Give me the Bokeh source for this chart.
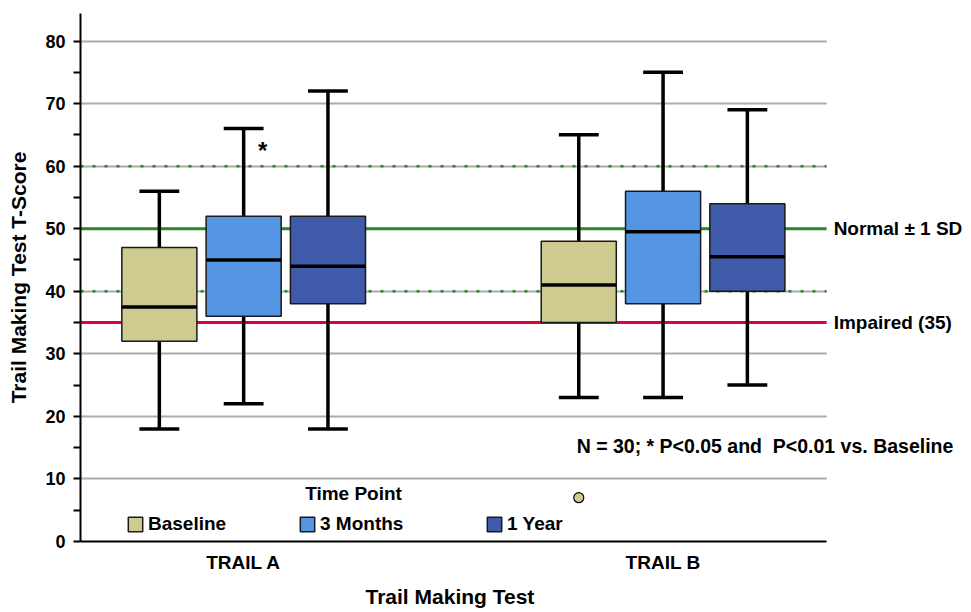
from bokeh.plotting import figure
from bokeh.models import (ColumnDataSource, Range1d, Span, Label, Legend, LegendItem, Title,
                          SingleIntervalTicker, FixedTicker, BoxAnnotation)
from bokeh.transform import dodge
from bokeh.core.properties import value
from bokeh.embed import file_html
from bokeh.resources import INLINE

# ---------------- data ----------------
trails = ["TRAIL A", "TRAIL B"]
time_points = ["Baseline", "3 Months", "1 Year"]
colors = ["#CFCA8F", "#5496E4", "#3F5BA9"]

box_trail = ["TRAIL A", "TRAIL A", "TRAIL A", "TRAIL B", "TRAIL B", "TRAIL B"]
box_time = ["Baseline", "3 Months", "1 Year", "Baseline", "3 Months", "1 Year"]
whisker_low = [18, 22, 18, 23, 23, 25]
q1 = [32, 36, 38, 35, 38, 40]
median = [37.5, 45, 44, 41, 49.5, 45.5]
q3 = [47, 52, 52, 48, 56, 54]
whisker_high = [56, 66, 72, 65, 75, 69]

outlier_trail = ["TRAIL B"]
outlier_time = ["Baseline"]
outlier_value = [7]

sig_trail = ["TRAIL A"]
sig_time = ["3 Months"]
sig_value = [62.5]

normal_mean = 50
normal_sd = 10
impaired_cut = 35

# ---------------- layout constants ----------------
FONT = "Liberation Sans"
x_start, x_end = -0.389, 1.733      # plotting area (right part holds the notes)
grid_end = 1.39                      # where the lines of the chart stop
offsets = {"Baseline": -0.201, "3 Months": 0.0, "1 Year": 0.201}
box_w = 0.179
cap_w = 0.095
legend_x = {"Baseline": 46, "3 Months": 218, "1 Year": 405}

pos = {t: i for i, t in enumerate(trails)}

p = figure(frame_width=890, frame_height=528,
           x_range=Range1d(x_start, x_end), y_range=Range1d(0, 84.4),
           output_backend="svg", toolbar_location=None,
           min_border_left=80, min_border_right=0, min_border_top=13, min_border_bottom=71,
           y_axis_label="Trail Making Test T-Score")
p.outline_line_color = None
p.background_fill_color = "white"
p.border_fill_color = "white"

# grid
p.xgrid.grid_line_color = None
p.ygrid.grid_line_color = "#ABABAB"
p.ygrid.grid_line_width = 2

# axes
p.yaxis.ticker = SingleIntervalTicker(interval=10, num_minor_ticks=2)
p.xaxis.ticker = FixedTicker(ticks=list(range(len(trails))))
p.xaxis.major_label_overrides = {i: t for i, t in enumerate(trails)}
p.xaxis.bounds = (x_start, grid_end)
for ax in (p.xaxis[0], p.yaxis[0]):
    ax.axis_line_color = "black"
    ax.axis_line_width = 2
    ax.major_label_text_font = FONT
    ax.major_label_text_font_style = "bold"
    ax.major_label_text_color = "black"
    ax.axis_label_text_font = FONT
    ax.axis_label_text_font_style = "bold"
    ax.axis_label_text_color = "black"
p.yaxis.major_tick_out = 0
p.yaxis.major_tick_in = 0
p.yaxis.minor_tick_out = 7
p.yaxis.minor_tick_in = 0
p.yaxis.minor_tick_line_width = 2
p.yaxis.minor_tick_line_color = "black"
p.yaxis.major_label_text_font_size = "18px"
p.yaxis.major_label_standoff = 8
p.yaxis.axis_label_text_font_size = "21px"
p.yaxis.axis_label_standoff = 12

p.xaxis.major_tick_out = 0
p.xaxis.major_tick_in = 0
p.xaxis.major_tick_line_color = None
p.xaxis.minor_tick_line_color = None
p.xaxis.major_label_text_font_size = "19px"
p.xaxis.major_label_standoff = 10

# x axis title, centred under the chart lines (not under the notes strip)
p.add_layout(Title(text="Trail Making Test", align="left", offset=285, standoff=15,
                   text_font=FONT, text_font_style="bold", text_font_size="21px",
                   text_color="black"), "below")

# reference lines
for loc in (normal_mean - normal_sd, normal_mean + normal_sd):
    p.add_layout(Span(location=loc, dimension="width", line_color="#2A8A2A",
                      line_width=2.5, line_dash="3 9", level="underlay"))
p.add_layout(Span(location=normal_mean, dimension="width", line_color="#2A8A2A",
                  line_width=3, level="underlay"))
p.add_layout(Span(location=impaired_cut, dimension="width", line_color="#E0003C",
                  line_width=3, level="underlay"))
# blank strip to the right of the chart lines, where the notes sit
p.add_layout(BoxAnnotation(left=grid_end, fill_color="white", fill_alpha=1.0,
                           line_alpha=0, level="glyph"))

# boxes
for tp, col in zip(time_points, colors):
    idx = [i for i, t in enumerate(box_time) if t == tp]
    src = ColumnDataSource(dict(
        x=[pos[box_trail[i]] for i in idx],
        low=[whisker_low[i] for i in idx],
        q1=[q1[i] for i in idx],
        med=[median[i] for i in idx],
        q3=[q3[i] for i in idx],
        high=[whisker_high[i] for i in idx],
    ))
    off = offsets[tp]
    xc = dodge("x", off)
    xl = dodge("x", off - cap_w / 2)
    xr = dodge("x", off + cap_w / 2)
    bl = dodge("x", off - box_w / 2)
    br = dodge("x", off + box_w / 2)
    p.segment(x0=xc, y0="q3", x1=xc, y1="high", source=src, line_color="black", line_width=3.5)
    p.segment(x0=xc, y0="q1", x1=xc, y1="low", source=src, line_color="black", line_width=3.5)
    p.segment(x0=xl, y0="high", x1=xr, y1="high", source=src, line_color="black", line_width=3.5)
    p.segment(x0=xl, y0="low", x1=xr, y1="low", source=src, line_color="black", line_width=3.5)
    r = p.vbar(x=xc, width=box_w, top="q3", bottom="q1", source=src,
               fill_color=col, line_color="#1A1A1A", line_width=1.5)
    p.segment(x0=bl, y0="med", x1=br, y1="med", source=src, line_color="black", line_width=3.5)

    leg = Legend(items=[LegendItem(label=tp, renderers=[r])], location=(legend_x[tp], 6),
                 orientation="horizontal", padding=0, margin=0, spacing=0,
                 glyph_width=18, glyph_height=18, label_standoff=4, label_height=18,
                 label_text_font=FONT, label_text_font_style="bold",
                 label_text_font_size="19px", label_text_color="black",
                 background_fill_alpha=0, border_line_color=None)
    p.add_layout(leg)

# outlier
for tp, col in zip(time_points, colors):
    oidx = [i for i, t in enumerate(outlier_time) if t == tp]
    if not oidx:
        continue
    osrc = ColumnDataSource(dict(x=[pos[outlier_trail[i]] for i in oidx],
                                 val=[outlier_value[i] for i in oidx]))
    p.scatter(x=dodge("x", offsets[tp]), y="val", source=osrc,
              marker="circle", size=10, fill_color=col, line_color="black", line_width=1.2)

# significance marker
ssrc = ColumnDataSource(dict(x=[pos[t] for t in sig_trail], val=sig_value,
                             txt=["*"] * len(sig_trail)))
p.text(x=dodge("x", offsets[sig_time[0]]), y="val", text="txt", source=ssrc,
       x_offset=19, text_align="center", text_baseline="middle",
       text_font=value(FONT), text_font_style="bold", text_font_size="24px", text_color="black")

# notes
label_kw = dict(text_font=FONT, text_font_style="bold", text_color="black")
p.add_layout(Label(x=grid_end, y=normal_mean, x_offset=7, text="Normal \u00b1 1 SD",
                   text_align="left", text_baseline="middle", text_font_size="19px", **label_kw))
p.add_layout(Label(x=grid_end, y=impaired_cut, x_offset=7, text="Impaired (35)",
                   text_align="left", text_baseline="middle", text_font_size="19px", **label_kw))
p.add_layout(Label(x=0.794, y=15.2, text="N = 30; * P<0.05 and \u00a0P<0.01 vs. Baseline",
                   text_align="left", text_baseline="middle", text_font_size="19.5px", **label_kw))
p.add_layout(Label(x=0.262, y=7.67, text="Time Point",
                   text_align="center", text_baseline="middle", text_font_size="19px", **label_kw))

open("out.html", "w").write(file_html(p, INLINE))
